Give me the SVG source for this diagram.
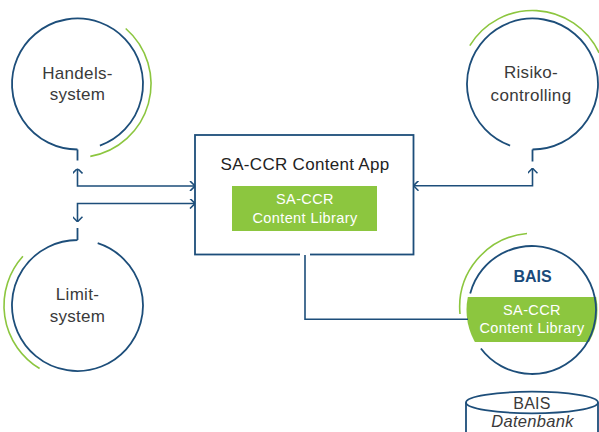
<svg xmlns="http://www.w3.org/2000/svg" width="599" height="432" viewBox="0 0 599 432">
  <style>
    .blue { fill: none; stroke: #1d4e7a; stroke-width: 1.8; }
    .green { fill: none; stroke: #8cc63f; stroke-width: 1.6; }
    .conn { fill: none; stroke: #1d4e7a; stroke-width: 1.6; marker-start: url(#chev); marker-end: url(#chev); }
    .lbl { font-family: "Liberation Sans", Arial, sans-serif; font-size: 17px; fill: #3a3a3a; text-anchor: middle; letter-spacing: 0.3px; }
    .title { font-family: "Liberation Sans", Arial, sans-serif; font-size: 17px; fill: #222; text-anchor: middle; letter-spacing: 0.3px; }
    .lib { font-family: "Liberation Sans", Arial, sans-serif; font-size: 14.5px; fill: #ffffff; text-anchor: middle; letter-spacing: 0.4px; }
    .bais { font-family: "Liberation Sans", Arial, sans-serif; font-size: 16px; font-weight: bold; fill: #1a4a7a; text-anchor: middle; }
    .gbox { fill: #8cc63f; }
  </style>
  <defs>
    <marker id="chev" markerUnits="userSpaceOnUse" viewBox="0 0 10 10" refX="10" refY="5" markerWidth="10" markerHeight="10" orient="auto-start-reverse">
      <path d="M5,0 L10,5 L5,10" fill="none" stroke="#1d4e7a" stroke-width="1.6"/>
    </marker>
    <clipPath id="baisClip">
      <circle cx="532" cy="310" r="65.5"/>
    </clipPath>
  </defs>

  <g id="node-handelssystem">
    <path class="blue" d="M77.5,149.5 A65.5,65.5 0 1 1 99.9,145.55 M77.5,149.5 V160.5"/>
    <path class="green" d="M125.7,28.5 A73.5,73.5 0 0 1 90.3,156.4"/>
    <text class="lbl" x="77.5" y="79">Handels-</text>
    <text class="lbl" x="77.5" y="100">system</text>
  </g>

  <g id="node-limitsystem">
    <path class="blue" d="M77.5,240 A65.5,65.5 0 1 0 97.7,243.2 M77.5,240 V228"/>
    <path class="green" d="M39.6,368.5 A73.5,73.5 0 0 1 22.9,256.3"/>
    <text class="lbl" x="77.5" y="300">Limit-</text>
    <text class="lbl" x="77.5" y="322">system</text>
  </g>

  <g id="node-risikocontrolling">
    <path class="blue" d="M532.5,149.5 A65.5,65.5 0 1 0 510.1,145.55 M532.5,149.5 V161.5"/>
    <path class="green" d="M469.8,45.6 A73.5,73.5 0 0 1 599.1,52.9"/>
    <text class="lbl" x="531" y="78">Risiko-</text>
    <text class="lbl" x="531" y="100.5">controlling</text>
  </g>

  <g id="node-app">
    <rect class="blue" x="195" y="135" width="218.5" height="119.5"/>
    <text class="title" x="305" y="170">SA-CCR Content App</text>
    <rect class="gbox" x="232" y="186" width="145" height="45"/>
    <text class="lib" x="305" y="204">SA-CCR</text>
    <text class="lib" x="305" y="222.5">Content Library</text>
  </g>

  <g id="node-bais">
    <path class="green" d="M460,314 A74,74 0 0 1 527,233.5"/>
    <rect class="gbox" x="460" y="297" width="145" height="45" clip-path="url(#baisClip)"/>
    <path class="blue" d="M470.2,293.4 A64,64 0 1 1 480.9,348.5"/>
    <text class="bais" x="532.5" y="281.5">BAIS</text>
    <text class="lib" x="532" y="315">SA-CCR</text>
    <text class="lib" x="532" y="332.5">Content Library</text>
  </g>

  <g id="node-datenbank">
    <ellipse class="blue" cx="532" cy="402.5" rx="66" ry="10.8"/>
    <path class="blue" d="M466,402.5 V433 M598,402.5 V433"/>
    <text class="lbl" x="532" y="408.5" style="font-size:16px">BAIS</text>
    <text class="lbl" x="532.5" y="427" style="font-size:16.5px;font-style:italic">Datenbank</text>
  </g>

  <g id="connectors">
    <path class="conn" d="M77.5,168.5 V186 H195"/>
    <path class="conn" d="M195,203.5 H77.5 V221.7"/>
    <path class="conn" d="M532.5,168.3 V185.7 H413.5"/>
    <line x1="300" y1="254.5" x2="310" y2="254.5" stroke="#ffffff" stroke-width="3"/>
    <path d="M305,255 V319.3 H468" fill="none" stroke="#1d4e7a" stroke-width="1.6"/>
  </g>
</svg>
